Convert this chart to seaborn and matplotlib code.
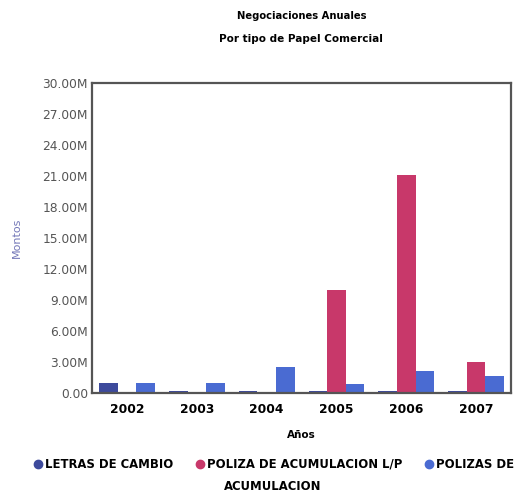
import matplotlib
matplotlib.use("Agg")
import matplotlib.pyplot as plt
import seaborn as sns
import pandas as pd
from matplotlib.ticker import FuncFormatter, MultipleLocator
from matplotlib.lines import Line2D

years = ["2002", "2003", "2004", "2005", "2006", "2007"]
series_names = ["LETRAS DE CAMBIO", "POLIZA DE ACUMULACION L/P", "POLIZAS DE ACUMULACION"]
letras = [1.0e6, 0.15e6, 0.15e6, 0.15e6, 0.15e6, 0.15e6]
poliza_lp = [0.0, 0.0, 0.0, 10.0e6, 21.1e6, 3.0e6]
polizas = [0.95e6, 0.95e6, 2.5e6, 0.9e6, 2.15e6, 1.65e6]
colors = ["#3d4a9c", "#c8386a", "#4a6bd2"]

rows = []
for name, vals in zip(series_names, [letras, poliza_lp, polizas]):
    for y, v in zip(years, vals):
        rows.append({"Año": y, "Serie": name, "Monto": v})
df = pd.DataFrame(rows)

sns.set_theme(style="white")
plt.rcParams['font.family'] = ['DejaVu Sans']
plt.rcParams['text.color'] = 'black'

fig = plt.figure(figsize=(5.15, 4.95), dpi=100)
ax = fig.add_axes([0.179, 0.206, 0.813, 0.626])

sns.barplot(data=df, x="Año", y="Monto", hue="Serie", hue_order=series_names,
            palette=colors, width=0.8, saturation=1, ax=ax, legend=False,
            edgecolor="none", linewidth=0)

ax.set_ylim(0, 30e6)
ax.yaxis.set_major_locator(MultipleLocator(3e6))
ax.yaxis.set_major_formatter(FuncFormatter(lambda v, p: "0.00" if v == 0 else f"{v/1e6:.2f}M"))
ax.tick_params(axis="y", labelsize=8.8, labelcolor="#555555", length=0, pad=3)
ax.tick_params(axis="x", labelsize=8.8, labelcolor="black", length=0, pad=7)
for lbl in ax.get_xticklabels():
    lbl.set_fontweight("bold")
ax.set_xlabel("Años", fontsize=7.5, fontweight="bold", labelpad=10, color="black")
ax.set_ylabel("Montos", fontsize=8, color="#7377b8", labelpad=15)
for side in ["left", "bottom", "top", "right"]:
    ax.spines[side].set_visible(True)
    ax.spines[side].set_color("#555555")
    ax.spines[side].set_linewidth(1.6)

fig.text(0.585, 0.968, "Negociaciones Anuales", ha="center", va="center", fontsize=7.2, fontweight="bold")
fig.text(0.585, 0.922, "Por tipo de Papel Comercial", ha="center", va="center", fontsize=7.5, fontweight="bold")

handles = [Line2D([0], [0], marker="o", linestyle="", markersize=6, color=c) for c in colors]
leg = fig.legend(handles, ["LETRAS DE CAMBIO", "POLIZA DE ACUMULACION L/P", "POLIZAS DE"],
                 loc="center", bbox_to_anchor=(0.53, 0.062), ncol=3, frameon=False,
                 handletextpad=0.1, columnspacing=1.8, handlelength=1.0,
                 prop={"size": 8.4, "weight": "bold"})
fig.text(0.53, 0.018, "ACUMULACION", ha="center", va="center", fontsize=8.4, fontweight="bold")

fig.savefig("out.png", dpi=100)
